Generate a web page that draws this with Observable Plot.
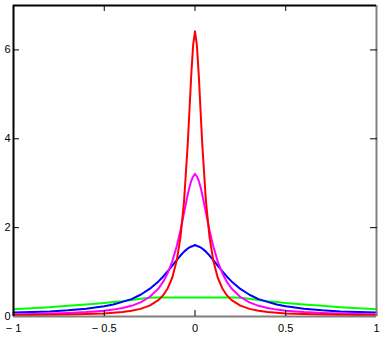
<!DOCTYPE html>
<html>
<head>
<meta charset="utf-8">
<script src="https://cdn.jsdelivr.net/npm/d3@7"></script>
<script src="https://cdn.jsdelivr.net/npm/@observablehq/plot@0.6"></script>
<style>
  html, body { margin: 0; padding: 0; background: #fff; }
  svg { display: block; }
</style>
</head>
<body>
<div id="chart"></div>
<script>
const xs = [-1,-0.9,-0.8,-0.7,-0.6,-0.5,-0.45,-0.4,-0.35,-0.3,-0.25,-0.2,-0.175,-0.15,-0.125,-0.1,-0.08,-0.06,-0.04,-0.03,-0.02,-0.01,0,0.01,0.02,0.03,0.04,0.06,0.08,0.1,0.125,0.15,0.175,0.2,0.25,0.3,0.35,0.4,0.45,0.5,0.6,0.7,0.8,0.9,1];

const redVals = [0.03,0.035,0.04,0.045,0.055,0.07,0.085,0.10,0.13,0.172,0.245,0.374,0.48,0.637,0.878,1.273,1.788,2.609,3.882,4.681,5.488,6.121,6.42,6.121,5.488,4.681,3.882,2.609,1.788,1.273,0.878,0.637,0.48,0.374,0.245,0.172,0.13,0.10,0.085,0.07,0.055,0.045,0.04,0.035,0.03];
const magentaVals = [0.05,0.055,0.065,0.08,0.10,0.13,0.155,0.19,0.24,0.318,0.439,0.637,0.784,0.979,1.242,1.592,1.941,2.341,2.744,2.92,3.061,3.152,3.21,3.152,3.061,2.92,2.744,2.341,1.941,1.592,1.242,0.979,0.784,0.637,0.439,0.318,0.24,0.19,0.155,0.13,0.10,0.08,0.065,0.055,0.05];
const blueVals = [0.09,0.10,0.115,0.14,0.175,0.23,0.27,0.33,0.392,0.49,0.621,0.796,0.901,1.019,1.144,1.273,1.372,1.46,1.53,1.557,1.576,1.588,1.61,1.588,1.576,1.557,1.53,1.46,1.372,1.273,1.144,1.019,0.901,0.796,0.621,0.49,0.392,0.33,0.27,0.23,0.175,0.14,0.115,0.10,0.09];
const greenVals = [0.165,0.185,0.21,0.24,0.27,0.305,0.325,0.345,0.37,0.40,0.42,0.43,0.43,0.43,0.43,0.43,0.43,0.43,0.43,0.43,0.43,0.43,0.43,0.43,0.43,0.43,0.43,0.43,0.43,0.43,0.43,0.43,0.43,0.43,0.42,0.40,0.37,0.345,0.325,0.305,0.27,0.24,0.21,0.185,0.165];

const xTicks = [-1,-0.5,0,0.5,1];
const xInnerTicks = [-0.5,0,0.5];
const yTicks = [0,2,4,6];
const yInnerTicks = [2,4,6];

const seriesList = [
  {name: "green", vals: greenVals, color: "#00ff00"},
  {name: "blue", vals: blueVals, color: "#0000ff"},
  {name: "magenta", vals: magentaVals, color: "#ff00ff"},
  {name: "red", vals: redVals, color: "#ff0000"}
];

const fmtX = d => d < 0 ? "\u2212 " + Math.abs(d) : String(d);
const fmtY = d => String(d);

const lineMarks = seriesList.map(s =>
  Plot.line(xs.map((x, i) => ({x, y: s.vals[i]})), {x: "x", y: "y", stroke: s.color, strokeWidth: 2})
);

const chart = Plot.plot({
  width: 390,
  height: 338,
  marginTop: 5,
  marginRight: 14,
  marginBottom: 22,
  marginLeft: 13,
  style: {fontFamily: "'Liberation Sans', Arial, sans-serif", background: "#fff", color: "#000"},
  x: {domain: [-1, 1]},
  y: {domain: [0, 7]},
  marks: [
    ...lineMarks,
    Plot.ruleY([0], {stroke: "#808080", strokeWidth: 2}),
    Plot.ruleX([1], {stroke: "#808080", strokeWidth: 2}),
    Plot.ruleX([-1], {stroke: "#000", strokeWidth: 2}),
    Plot.ruleY([7], {stroke: "#000", strokeWidth: 2}),
    Plot.axisX({ticks: xTicks, tickSize: 0, tickPadding: 8, tickFormat: fmtX, fontSize: 11, label: null}),
    Plot.axisX({ticks: xInnerTicks, tickSize: -6, fill: "none", stroke: "#000", label: null}),
    Plot.axisX({anchor: "top", ticks: xInnerTicks, tickSize: -5, fill: "none", stroke: "#000", label: null}),
    Plot.axisY({ticks: yTicks, tickSize: 0, tickPadding: 3, tickFormat: fmtY, fontSize: 11, label: null}),
    Plot.axisY({ticks: yInnerTicks, tickSize: -6, fill: "none", stroke: "#000", label: null}),
    Plot.axisY({anchor: "right", ticks: yInnerTicks, tickSize: -7, fill: "none", stroke: "#000", label: null})
  ]
});
document.getElementById("chart").appendChild(chart);
</script>
</body>
</html>
